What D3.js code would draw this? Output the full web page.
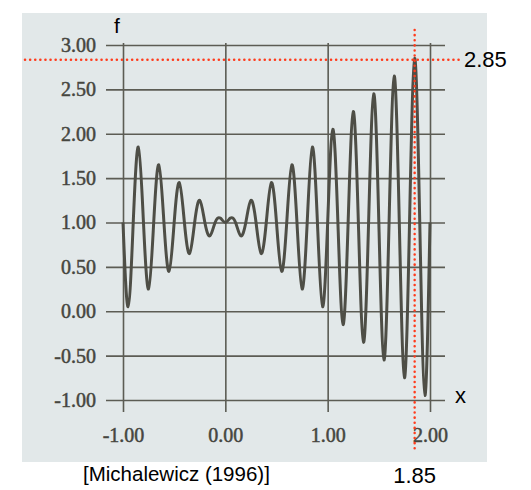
<!DOCTYPE html>
<html>
<head>
<meta charset="utf-8">
<script src="https://cdn.jsdelivr.net/npm/d3@7"></script>
<style>
    html, body { margin: 0; padding: 0; background: #ffffff; }
    svg { display: block; }
</style>
</head>
<body>
<div id="chart"></div>
<script>
const xValues = [
    -1.00, -0.95, -0.90, -0.85, -0.80, -0.75, -0.70, -0.65, -0.60, -0.55,
    -0.50, -0.45, -0.40, -0.35, -0.30, -0.25, -0.20, -0.15, -0.10, -0.05,
     0.00,  0.05,  0.10,  0.15,  0.20,  0.25,  0.30,  0.35,  0.40,  0.45,
     0.50,  0.55,  0.60,  0.65,  0.70,  0.75,  0.80,  0.85,  0.90,  0.95,
     1.00,  1.05,  1.10,  1.15,  1.20,  1.25,  1.30,  1.35,  1.40,  1.45,
     1.50,  1.55,  1.60,  1.65,  1.70,  1.75,  1.80,  1.85,  1.90,  1.95,
     2.00
];
const fValues = [
    1.00, 0.05, 1.00, 1.85, 1.00, 0.25, 1.00, 1.65, 1.00, 0.45,
    1.00, 1.45, 1.00, 0.65, 1.00, 1.25, 1.00, 0.85, 1.00, 1.05,
    1.00, 1.05, 1.00, 0.85, 1.00, 1.25, 1.00, 0.65, 1.00, 1.45,
    1.00, 0.45, 1.00, 1.65, 1.00, 0.25, 1.00, 1.85, 1.00, 0.05,
    1.00, 2.05, 1.00, -0.15, 1.00, 2.25, 1.00, -0.35, 1.00, 2.45,
    1.00, -0.55, 1.00, 2.65, 1.00, -0.75, 1.00, 2.85, 1.00, -0.95,
    1.00
];

const xTicks = [-1, 0, 1, 2];
const xTickLabels = ["-1.00", "0.00", "1.00", "2.00"];
const yTicks = [-1, -0.5, 0, 0.5, 1, 1.5, 2, 2.5, 3];
const yTickLabels = ["-1.00", "-0.50", "0.00", "0.50", "1.00", "1.50", "2.00", "2.50", "3.00"];

// Marked maximum
const markX = [1.85];
const markY = [2.85];
const markLabels = ["1.85", "2.85"];
const sourceLabel = "[Michalewicz (1996)]";

const width = 531;
const height = 490;

const svg = d3.select('#chart')
    .append('svg')
    .attr('width', width)
    .attr('height', height);

// scanned page background
svg.append('rect')
    .attr('x', 22)
    .attr('y', 13)
    .attr('width', 465)
    .attr('height', 449)
    .attr('fill', '#e2e8e9');

const x = d3.scaleLinear().domain([-1, 2]).range([123, 430]);
const y = d3.scaleLinear().domain([-1, 3]).range([400, 45]);

const gridColor = '#5c5c54';
const labelColor = '#46463f';
const serif = '"Liberation Serif", "DejaVu Serif", serif';

// horizontal grid + y labels
const gridLeft = x(-1) - 17;
const gridRight = x(2) + 15;
const yAxis = d3.axisLeft(y)
    .tickValues(yTicks)
    .tickFormat((d, i) => yTickLabels[i])
    .tickSizeInner(-(gridRight - gridLeft))
    .tickSizeOuter(0)
    .tickPadding(10);

const gy = svg.append('g')
    .attr('transform', `translate(${gridLeft},0)`)
    .call(yAxis);
gy.select('.domain').remove();
gy.selectAll('line').attr('stroke', gridColor).attr('stroke-width', 1.6);
gy.selectAll('text')
    .attr('fill', labelColor)
    .attr('font-family', serif)
    .attr('font-size', 20)
    .attr('stroke', labelColor)
    .attr('stroke-width', 0.5);

// vertical grid + x labels
const gridTop = y(3) - 2;
const gridBottom = y(-1) + 12;
const xAxis = d3.axisBottom(x)
    .tickValues(xTicks)
    .tickFormat((d, i) => xTickLabels[i])
    .tickSizeInner(gridBottom - gridTop)
    .tickSizeOuter(0)
    .tickPadding(16);

const gx = svg.append('g')
    .attr('transform', `translate(0,${gridTop})`)
    .call(xAxis);
gx.select('.domain').remove();
gx.selectAll('line').attr('stroke', gridColor).attr('stroke-width', 1.6);
gx.selectAll('text')
    .attr('fill', labelColor)
    .attr('font-family', serif)
    .attr('font-size', 20)
    .attr('stroke', labelColor)
    .attr('stroke-width', 0.5);

// curve
const data = xValues.map((v, i) => ({ x: v, f: fValues[i] }));
const line = d3.line()
    .x(d => x(d.x))
    .y(d => y(d.f))
    .curve(d3.curveNatural);

svg.append('path')
    .datum(data)
    .attr('fill', 'none')
    .attr('stroke', '#4e4e46')
    .attr('stroke-width', 3)
    .attr('stroke-linejoin', 'round')
    .attr('d', line);

// red dotted markers
const red = '#ff3b1c';
svg.append('line')
    .attr('x1', 25).attr('x2', 460)
    .attr('y1', y(markY[0]) + 1.5).attr('y2', y(markY[0]) + 1.5)
    .attr('stroke', red)
    .attr('stroke-width', 2.5)
    .attr('stroke-linecap', 'round')
    .attr('stroke-dasharray', '0.1,5');

svg.append('line')
    .attr('x1', x(markX[0])).attr('x2', x(markX[0]))
    .attr('y1', 30).attr('y2', 450)
    .attr('stroke', red)
    .attr('stroke-width', 2.5)
    .attr('stroke-linecap', 'round')
    .attr('stroke-dasharray', '0.1,5');

const sans = '"Liberation Sans", Arial, sans-serif';

svg.append('text')
    .attr('x', 464).attr('y', 67)
    .style('font-family', sans).style('font-size', '22px')
    .attr('fill', '#000')
    .text(markLabels[1]);

svg.append('text')
    .attr('x', x(markX[0])).attr('y', 483)
    .attr('text-anchor', 'middle')
    .style('font-family', sans).style('font-size', '22px')
    .attr('fill', '#000')
    .text(markLabels[0]);

// axis names
svg.append('text')
    .attr('x', 117).attr('y', 33)
    .attr('text-anchor', 'middle')
    .style('font-family', sans).style('font-size', '21px')
    .attr('fill', '#000')
    .text('f');

svg.append('text')
    .attr('x', 455).attr('y', 403)
    .style('font-family', sans).style('font-size', '22px')
    .attr('fill', '#000')
    .text('x');

svg.append('text')
    .attr('x', 83).attr('y', 481)
    .style('font-family', sans).style('font-size', '20.5px')
    .attr('fill', '#000')
    .text(sourceLabel);
</script>
</body>
</html>
